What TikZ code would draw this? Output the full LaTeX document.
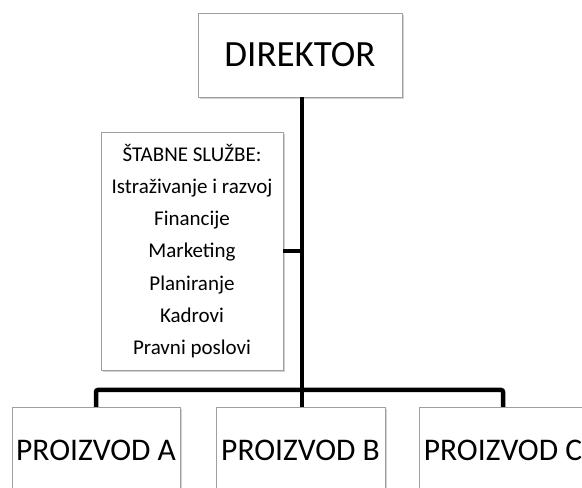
\documentclass[tikz,border=0pt]{standalone}
\usepackage{fontspec}
\setmainfont{Carlito}
\usetikzlibrary{shadows}
\begin{document}
\begin{tikzpicture}[x=1pt,y=1pt,
  box/.style={draw=gray!75, line width=0.7pt, fill=white, inner sep=0pt,
    drop shadow={shadow xshift=1.5pt, shadow yshift=-2pt, opacity=0.35, fill=gray}},
  conn/.style={line width=4.5pt, rounded corners=2pt},
  prod/.style={box, anchor=north, minimum width=168pt, minimum height=86pt, font=\fontsize{31.5}{38}\selectfont}]
\clip (0,0) rectangle (582,488);
\fill[white] (0,0) rectangle (582,488);
\node[box, minimum width=204pt, minimum height=84pt, font=\fontsize{37}{42}\selectfont] (dir) at (300,433) {DIREKTOR};
\node[box, minimum width=182pt, minimum height=238pt, align=center,
  font=\fontsize{21}{32.3}\selectfont] (staff) at (192,237)
  {ŠTABNE SLUŽBE:\\Istraživanje i razvoj\\Financije\\Marketing\\Planiranje\\Kadrovi\\Pravni poslovi};
\node[prod] (pA) at (96,81) {PROIZVOD A};
\node[prod, minimum width=169pt] (pB) at (300.5,81) {PROIZVOD B};
\node[prod] (pC) at (503,81) {PROIZVOD C};
\coordinate (j) at (302,98);
\draw[conn] (dir.south -| j) -- (j);
\draw[conn] (staff.east) -- (staff.east -| j);
\draw[conn] (pA.north) |- (j) -| (pC.north);
\draw[conn] (j) -- (j |- pB.north);
\end{tikzpicture}
\end{document}
